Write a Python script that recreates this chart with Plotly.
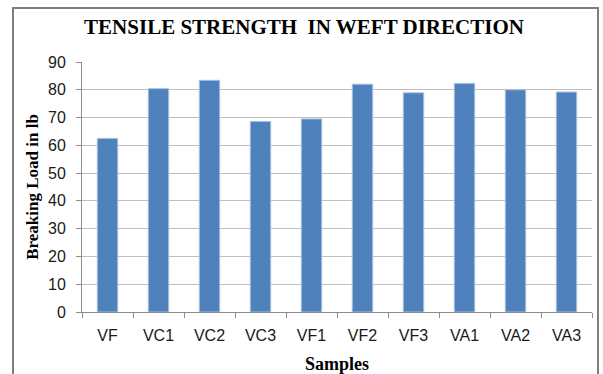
import plotly.graph_objects as go

categories = ["VF", "VC1", "VC2", "VC3", "VF1", "VF2", "VF3", "VA1", "VA2", "VA3"]
values = [62.5, 80.4, 83.4, 68.6, 69.5, 82.0, 78.9, 82.3, 80.0, 79.2]
y_ticks = [0, 10, 20, 30, 40, 50, 60, 70, 80, 90]

W, H = 603, 374
L, R, T, B = 82, 592, 62, 312
pw, ph = R - L, B - T

fig = go.Figure(go.Bar(
    x=categories, y=values,
    marker=dict(color="#4F81BD", line=dict(color="#A7C0DE", width=1)),
))

fig.update_layout(
    width=W, height=H,
    margin=dict(l=L, r=W - R, t=T, b=H - B),
    paper_bgcolor="white", plot_bgcolor="white",
    bargap=0.6,
    showlegend=False,
    title=dict(text="<b>TENSILE STRENGTH  IN WEFT DIRECTION</b>",
               font=dict(family="Liberation Serif", size=21, color="black"),
               x=304 / W, xanchor="center", y=1 - 27 / H, yanchor="middle"),
    font=dict(family="Liberation Sans", size=16, color="#333333"),
)

fig.update_xaxes(
    automargin=False,
    showline=True, linecolor="#8C8C8C", linewidth=1,
    ticks="outside", ticklen=5, tickcolor="#8C8C8C", tickson="boundaries",
    tickfont=dict(family="Liberation Sans", size=16, color="#1a1a1a"),
    ticklabelstandoff=9,
    title=dict(text="<b>Samples</b>", font=dict(family="Liberation Serif", size=18, color="black"),
               standoff=16),
)
fig.update_yaxes(
    automargin=False,
    range=[0, 90], tickvals=y_ticks,
    showline=True, linecolor="#8C8C8C", linewidth=1,
    showgrid=True, gridcolor="#BFBFBF", gridwidth=1,
    ticks="outside", ticklen=5, tickcolor="#8C8C8C",
    tickfont=dict(family="Liberation Sans", size=16, color="#1a1a1a"),
    ticklabelstandoff=7,
    zeroline=False,
    title=dict(text="<b>Breaking Load in lb</b>", font=dict(family="Liberation Serif", size=17, color="black"),
               standoff=5),
)

# chart frame
fig.add_shape(type="rect", xref="paper", yref="paper",
              x0=(13 - L) / pw, x1=(598 - L) / pw,
              y0=(B - 400) / ph, y1=(B - 8) / ph,
              line=dict(color="#7F7F7F", width=2), fillcolor="rgba(0,0,0,0)", layer="below")

fig.write_html("out.html", config={"displayModeBar": False},
               post_script="document.body.style.margin='0';")
